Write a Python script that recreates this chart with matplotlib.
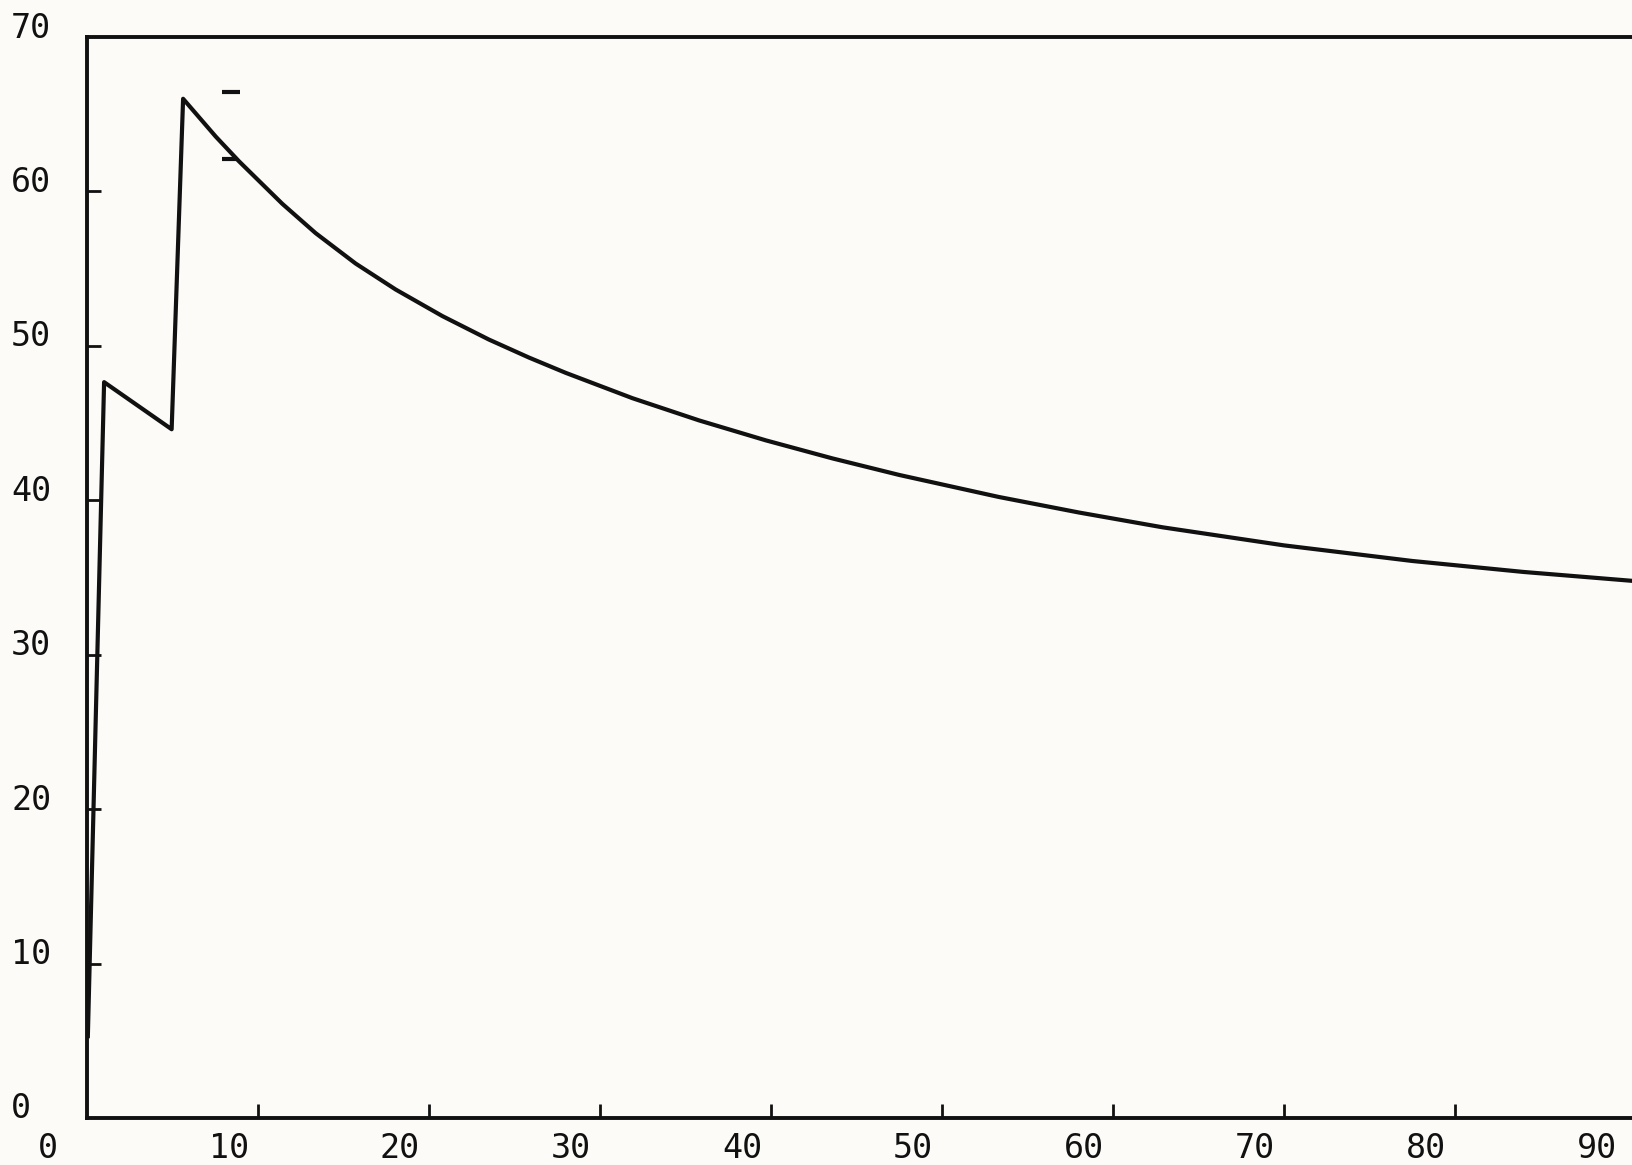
# Plotter-style response curve: sharp double rise, then slow decay

import matplotlib
matplotlib.use('Agg')
import matplotlib.pyplot as plt

# curve values
curve_x = [0.05, 1.0, 4.95, 5.62, 7.53, 8.89, 11.42, 13.37, 15.71, 18.05,
           20.78, 23.5, 25.85, 28.0, 31.9, 35.8, 39.7, 43.6, 47.5, 53.3,
           58.0, 62.9, 70.0, 77.5, 84.0, 90.4]
curve_y = [5.3, 47.65, 44.6, 66.0, 63.55, 61.95, 59.2, 57.3, 55.33, 53.65,
           51.93, 50.41, 49.24, 48.25, 46.61, 45.17, 43.88, 42.71, 41.64,
           40.22, 39.21, 38.25, 37.08, 36.07, 35.36, 34.78]

# two short dash marks near the peak
mark_x0 = [7.87, 7.87]
mark_x1 = [8.97, 8.77]
mark_y = [66.45, 62.1]

x_ticks = [10, 20, 30, 40, 50, 60, 70, 80]
y_ticks = [10, 20, 30, 40, 50, 60]
x_labels = [0, 10, 20, 30, 40, 50, 60, 70, 80, 90]
y_labels = [0, 10, 20, 30, 40, 50, 60, 70]

ink = '#111111'
paper = '#fcfbf8'
font = ['DejaVu Sans Mono']

fig = plt.figure(figsize=(16.32, 11.65), dpi=100, facecolor=paper)
ax = fig.add_axes([87 / 1632, 47 / 1165, 1 - 87 / 1632, 1081 / 1165])
ax.set_facecolor(paper)

ax.plot(curve_x, curve_y, color=ink, lw=3.0, solid_joinstyle='round')
ax.hlines(mark_y, mark_x0, mark_x1, color=ink, lw=3.0)

ax.set_xlim(0, (1632 - 87) / 17.1)
ax.set_ylim(0, 70)

for side in ['left', 'bottom', 'top']:
    ax.spines[side].set_linewidth(2.8)
    ax.spines[side].set_color(ink)
ax.spines['right'].set_visible(False)

ax.set_xticks(x_ticks)
ax.set_yticks(y_ticks)
ax.tick_params(direction='in', length=10, width=2.0, color=ink,
               labelbottom=False, labelleft=False)

# labels sit left of / above their ticks, like the plotter drew them
for v in x_labels:
    ax.annotate(str(v), xy=(v, 0), xycoords=('data', 'axes fraction'),
                xytext=(-49, -31), textcoords='offset pixels',
                ha='left', va='center', fontsize=24, family=font, color=ink)
for v in y_labels:
    ax.annotate(str(v), xy=(11, v), xycoords=('figure pixels', 'data'),
                xytext=(0, 9), textcoords='offset pixels',
                ha='left', va='center', fontsize=24, family=font, color=ink)

fig.savefig('out.png', dpi=100, facecolor=paper)
